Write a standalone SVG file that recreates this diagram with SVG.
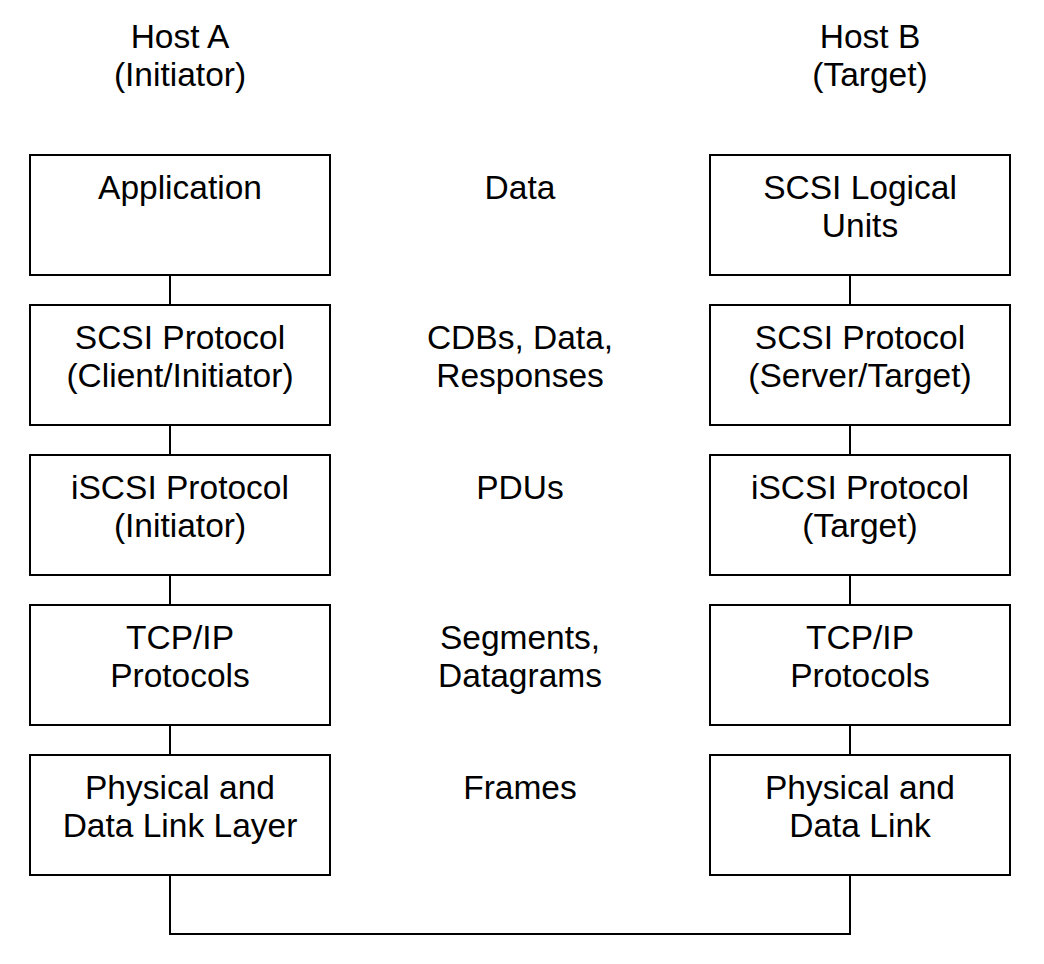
<svg xmlns="http://www.w3.org/2000/svg" width="1044" height="964" viewBox="0 0 1044 964">
<style>
.box{fill:#fff;stroke:#000;stroke-width:2}
.ln{fill:none;stroke:#000;stroke-width:2}
text{font-family:"Liberation Sans",Arial,sans-serif;font-size:33.5px;fill:#000;text-anchor:middle}
</style>
<rect width="1044" height="964" fill="#fff"/>
<g id="connectors">
<line class="ln" x1="170" y1="275" x2="170" y2="305"/>
<line class="ln" x1="170" y1="425" x2="170" y2="455"/>
<line class="ln" x1="170" y1="575" x2="170" y2="605"/>
<line class="ln" x1="170" y1="725" x2="170" y2="755"/>
<line class="ln" x1="850" y1="275" x2="850" y2="305"/>
<line class="ln" x1="850" y1="425" x2="850" y2="455"/>
<line class="ln" x1="850" y1="575" x2="850" y2="605"/>
<line class="ln" x1="850" y1="725" x2="850" y2="755"/>
<polyline class="ln" points="170,875 170,934 850,934 850,875"/>
</g>
<g id="hostA"><text x="180" y="48">Host A</text><text x="180" y="86">(Initiator)</text></g>
<g id="hostB"><text x="870" y="48">Host B</text><text x="870" y="86">(Target)</text></g>
<g id="a1"><rect class="box" x="30" y="155" width="300" height="120"/><text x="180" y="199">Application</text></g>
<g id="a2"><rect class="box" x="30" y="305" width="300" height="120"/><text x="180" y="349">SCSI Protocol</text><text x="180" y="387">(Client/Initiator)</text></g>
<g id="a3"><rect class="box" x="30" y="455" width="300" height="120"/><text x="180" y="499">iSCSI Protocol</text><text x="180" y="537">(Initiator)</text></g>
<g id="a4"><rect class="box" x="30" y="605" width="300" height="120"/><text x="180" y="649">TCP/IP</text><text x="180" y="687">Protocols</text></g>
<g id="a5"><rect class="box" x="30" y="755" width="300" height="120"/><text x="180" y="799">Physical and</text><text x="180" y="837">Data Link Layer</text></g>
<g id="b1"><rect class="box" x="710" y="155" width="300" height="120"/><text x="860" y="199">SCSI Logical</text><text x="860" y="237">Units</text></g>
<g id="b2"><rect class="box" x="710" y="305" width="300" height="120"/><text x="860" y="349">SCSI Protocol</text><text x="860" y="387">(Server/Target)</text></g>
<g id="b3"><rect class="box" x="710" y="455" width="300" height="120"/><text x="860" y="499">iSCSI Protocol</text><text x="860" y="537">(Target)</text></g>
<g id="b4"><rect class="box" x="710" y="605" width="300" height="120"/><text x="860" y="649">TCP/IP</text><text x="860" y="687">Protocols</text></g>
<g id="b5"><rect class="box" x="710" y="755" width="300" height="120"/><text x="860" y="799">Physical and</text><text x="860" y="837">Data Link</text></g>
<g id="m1"><text x="520" y="199">Data</text></g>
<g id="m2"><text x="520" y="349">CDBs, Data,</text><text x="520" y="387">Responses</text></g>
<g id="m3"><text x="520" y="499">PDUs</text></g>
<g id="m4"><text x="520" y="649">Segments,</text><text x="520" y="687">Datagrams</text></g>
<g id="m5"><text x="520" y="799">Frames</text></g>
</svg>
